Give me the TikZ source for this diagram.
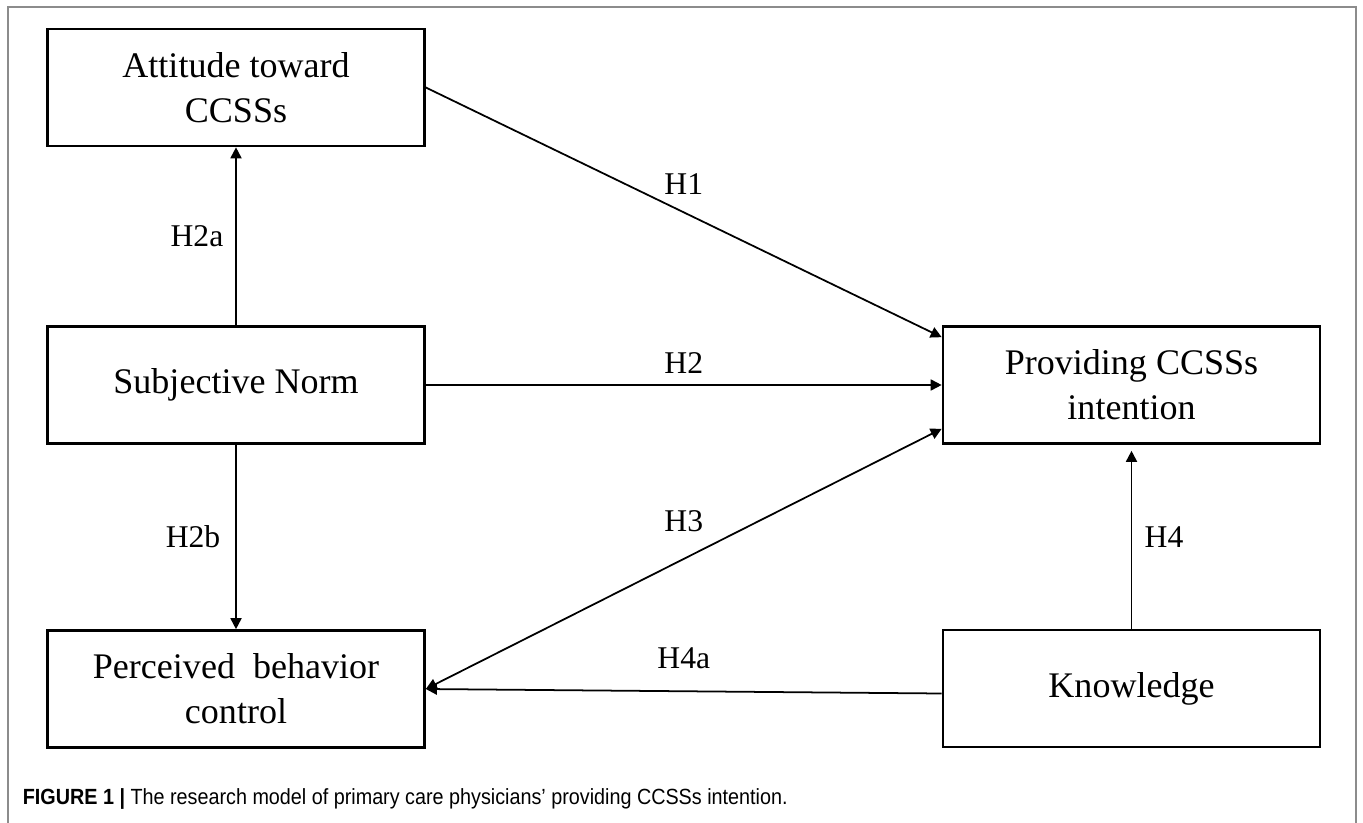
\documentclass[tikz,border=0pt]{standalone}
\usepackage{fontspec}
\setmainfont{Liberation Serif}
\newfontfamily\capfont[FakeStretch=0.9]{Liberation Sans}
\usetikzlibrary{arrows.meta,positioning,calc}

\begin{document}
\begin{tikzpicture}[->,>={Triangle[length=0.22cm,width=0.22cm]},line width=1pt,
   box/.style={draw, line width=1.5pt, minimum width=7.54cm, minimum height=2.34cm,
     align=center, font=\fontsize{20.5}{25.6}\selectfont},
   lbl/.style={font=\fontsize{18}{22}\selectfont}]
  \useasboundingbox (0,0) rectangle (27.26,-16.46);
  % frame round the figure
  \draw[-, black!45, line width=1.1pt] (0.16,-16.46) -- (0.16,-0.14) -- (27.12,-0.14) -- (27.12,-16.46);
  \node[box] (att) at (4.72,-1.75) {Attitude toward\\CCSSs};
  \node[box] (sn) at (4.72,-7.7) {Subjective Norm};
  \node[box] (pbc) at (4.72,-13.78) {Perceived\ \ behavior\\control};
  \node[box] (pci) at (22.63,-7.7) {Providing CCSSs\\intention};
  \node[box] (kn) at (22.63,-13.77) {Knowledge};
  \path (att.east) edge node[lbl, yshift=0.56cm] (h1) {H1} ([yshift=-0.24cm]pci.north west);
  \path (sn) edge node[lbl, yshift=0.44cm] (h2) {H2} (pci);
  \path (sn) edge node[lbl, xshift=-0.78cm] (h2a) {H2a} (att);
  \path (sn) edge node[lbl, xshift=-0.86cm] (h2b) {H2b} (pbc);
  \path ([yshift=0.32cm]pci.south west) edge[<->] node[lbl, yshift=0.76cm] (h3) {H3} (pbc.east);
  \path ([yshift=-0.1cm]kn.west) edge node[lbl, yshift=0.66cm] (h4a) {H4a} (pbc.east);
  \path (kn) edge[shorten >=0.12cm] node[lbl, xshift=0.65cm] (h4) {H4} (pci);
  % caption
  \node[anchor=base west, inner sep=0pt, font=\capfont\fontsize{12.5}{15}\selectfont] (cap) at (0.44,-16.08)
    {\textbf{FIGURE 1 |} The research model of primary care physicians’ providing CCSSs intention.};
\end{tikzpicture}
\end{document}
